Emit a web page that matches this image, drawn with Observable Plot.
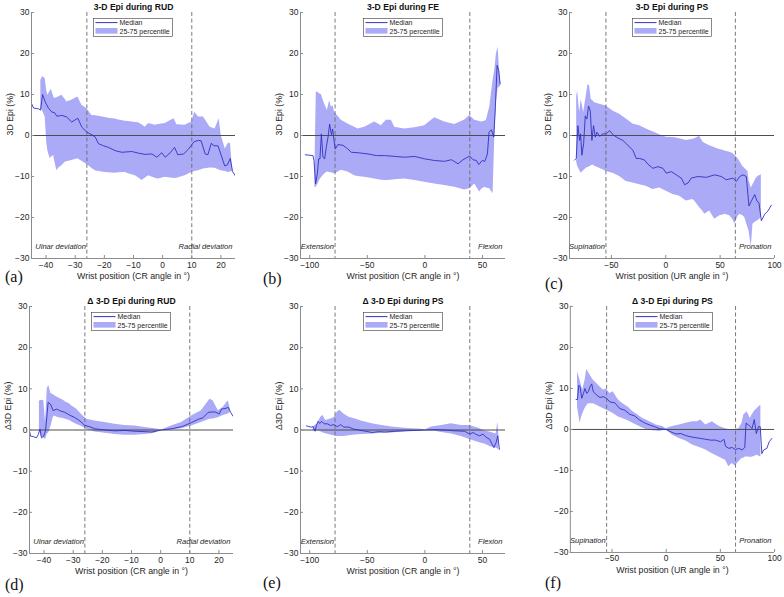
<!DOCTYPE html>
<html>
<head>
<meta charset="utf-8">
<script src="https://cdn.jsdelivr.net/npm/d3@7"></script>
<script src="https://cdn.jsdelivr.net/npm/@observablehq/plot@0.6"></script>
<style>
  body { margin: 0; background: #fff; }
  #fig { position: relative; width: 784px; height: 597px; overflow: hidden;
         font-family: "Liberation Sans", Arial, sans-serif; background: #fff; }
  .panel { position: absolute; }
  .tag { position: absolute; font-family: "Liberation Serif", "Times New Roman", serif;
         font-size: 16px; line-height: 16px; color: #111; }
</style>
</head>
<body>
<div id="fig"></div>
<script>
// ---- axes ----
const yTicks = [-30, -20, -10, 0, 10, 20, 30];
const rudTicks = [-40, -30, -20, -10, 0, 10, 20];
const feTicks = [-100, -50, 0, 50];
const psTicks = [-50, 0, 50, 100];
const rudDomain = [-45, 25];
const feDomain = [-108, 70];
const psDomain = [-88.5, 100];
// end-of-range markers (dashed verticals)
const rudBounds = [-26, 10];
const feBounds = [-78, 39];
const psBounds = [-55, 64];

// ---- (a) 3-D Epi during RUD: median [x, y], band [x, p25, p75] ----
const aMedian = [[-45,7.8],[-44.3,6.7],[-42.6,6.5],[-41.9,6.2],[-41.2,10.0],[-40.3,8.2],[-39.2,6.7],[-38.0,5.7],[-37.1,5.6],[-36.3,4.7],[-34.6,4.9],[-32.9,4.5],[-31.2,3.3],[-29.1,4.2],[-27.7,2.0],[-26.0,0.8],[-24.3,0.2],[-23.1,-0.4],[-22.0,-2.0],[-20.3,-2.5],[-18.6,-2.9],[-16.3,-3.7],[-14.0,-4.1],[-10.6,-3.9],[-8.3,-4.3],[-6.0,-4.6],[-3.7,-4.5],[-2.0,-5.3],[-0.3,-4.2],[0.9,-5.3],[2.6,-4.2],[4.1,-2.9],[5.2,-4.7],[7.2,-4.5],[8.9,-3.3],[10.8,-1.5],[12.3,-1.2],[13.2,-1.3],[14.6,-4.5],[15.5,-4.7],[16.7,-1.9],[17.6,-2.5],[19.0,-2.5],[21.3,-7.4],[22.2,-7.2],[23.2,-5.6],[24.0,-8.8],[24.9,-9.8]];
const aBand = [[-41.8,6.5,13.5],[-41.2,6.0,14.3],[-40.3,4.5,13.9],[-39.8,-1.5,11.0],[-39.4,-3.7,9.8],[-38.6,-5.7,10.8],[-38.2,-5.3,11.3],[-37.4,-4.9,9.5],[-37.1,-6.0,9.0],[-36.3,-8.6,9.2],[-35.7,-8.0,9.4],[-34.6,-7.4,9.8],[-33.4,-6.5,8.8],[-32.9,-6.4,8.2],[-31.2,-6.1,8.6],[-29.1,-5.7,9.4],[-27.7,-6.3,7.4],[-26.0,-7.1,6.5],[-25.4,-7.4,6.0],[-24.3,-8.0,4.9],[-23.1,-8.6,4.8],[-22.0,-8.8,4.7],[-19.7,-9.0,4.4],[-18.6,-9.1,4.2],[-16.3,-9.2,4.0],[-15.1,-9.1,3.8],[-12.8,-9.0,3.5],[-11.7,-9.3,3.4],[-9.4,-9.8,3.2],[-8.3,-10.3,3.1],[-7.1,-11.0,2.6],[-6.0,-10.4,2.0],[-4.8,-9.8,2.9],[-2.6,-10.4,2.5],[-1.4,-10.6,2.7],[0.9,-10.2,2.9],[3.9,-10.5,4.1],[4.9,-10.4,2.6],[7.7,-9.8,2.5],[10.0,-9.0,3.3],[11.0,-8.8,5.7],[12.3,-8.6,4.5],[14.0,-8.2,4.5],[16.3,-7.9,2.0],[18.0,-8.0,1.6],[19.4,-8.4,4.1],[20.1,-8.6,0.0],[21.5,-8.8,-3.3],[22.6,-9.0,-1.8],[23.3,-8.9,-2.0],[24.0,-8.8,-8.8]];

// ---- (b) 3-D Epi during FE ----
const bMedian = [[-103.8,-4.7],[-97.2,-4.9],[-96.3,-6.1],[-94.9,-11.8],[-93.4,-9.3],[-92.2,-5.7],[-91.1,-5.7],[-89.9,0.4],[-88.5,-5.3],[-87.0,-5.7],[-85.6,-2.8],[-84.1,-0.4],[-82.7,2.8],[-81.2,0.2],[-80.1,1.6],[-78.9,-1.2],[-77.8,-3.3],[-75.5,-2.2],[-71.1,-2.4],[-66.8,-3.3],[-63.9,-4.1],[-58.1,-4.2],[-49.4,-4.5],[-42.1,-4.9],[-34.9,-4.9],[-26.2,-5.1],[-17.5,-5.3],[-8.8,-5.1],[-0.2,-5.7],[8.5,-6.1],[17.2,-6.3],[23.0,-5.9],[28.8,-6.9],[33.2,-5.9],[38.9,-5.0],[41.8,-5.9],[44.7,-6.1],[46.8,-7.1],[49.7,-6.1],[52.0,-6.3],[54.3,-4.5],[55.7,0.8],[57.8,1.4],[59.8,-0.4],[61.2,6.9],[62.7,17.1],[64.1,15.9],[65.3,12.6]];
const bBand = [[-95.5,-12.6,-8.0],[-94.3,-12.6,10.6],[-93.4,-12.2,10.6],[-91.4,-11.0,10.2],[-89.9,-10.3,10.0],[-88.5,-9.8,8.8],[-87.0,-9.4,7.7],[-84.7,-8.9,6.1],[-82.7,-9.0,8.5],[-81.2,-9.1,6.9],[-79.8,-9.2,7.3],[-78.3,-9.3,5.7],[-76.0,-9.0,4.9],[-72.6,-8.5,3.7],[-66.8,-8.9,2.8],[-61.0,-9.8,2.0],[-58.1,-10.0,1.6],[-52.3,-10.2,2.0],[-43.6,-10.6,3.3],[-37.8,-10.9,2.4],[-33.5,-11.0,3.7],[-29.1,-10.9,3.7],[-26.2,-10.8,2.0],[-17.5,-10.6,1.6],[-8.8,-11.0,1.9],[-0.2,-11.4,2.4],[8.5,-11.8,4.3],[17.2,-12.2,3.3],[25.9,-12.6,2.7],[34.6,-13.3,3.8],[38.9,-13.0,4.9],[43.3,-11.8,3.7],[47.6,-13.8,3.4],[49.1,-13.2,3.3],[52.0,-12.6,3.5],[53.4,-12.8,3.7],[56.3,-13.0,6.9],[59.2,-14.2,13.4],[60.7,-0.4,16.0],[62.1,8.0,19.9],[63.6,11.5,21.5],[65.0,11.8,15.0],[65.9,12.0,12.6]];

// ---- (c) 3-D Epi during PS ----
const cMedian = [[-83.8,-6.0],[-82.3,-5.6],[-80.8,2.4],[-79.2,-1.2],[-78.3,0.4],[-77.1,-4.8],[-75.5,-2.0],[-74.0,4.8],[-72.5,4.0],[-71.0,7.2],[-69.4,6.0],[-67.9,-1.2],[-66.4,2.4],[-64.8,-0.4],[-63.3,0.8],[-60.8,-0.2],[-57.8,0.4],[-54.7,0.4],[-51.6,1.2],[-48.6,0.2],[-44.0,-0.6],[-39.4,-1.2],[-34.8,-2.4],[-30.2,-3.6],[-27.1,-5.6],[-24.0,-5.6],[-19.4,-6.0],[-16.4,-7.0],[-11.8,-8.0],[-7.2,-7.6],[-2.6,-8.0],[0.5,-9.2],[5.1,-8.8],[9.7,-9.6],[14.3,-10.4],[17.4,-12.0],[20.4,-11.6],[23.5,-10.4],[29.6,-10.0],[37.3,-10.2],[45.0,-9.6],[51.1,-10.0],[55.7,-10.8],[61.8,-10.4],[64.9,-11.2],[68.0,-10.0],[71.0,-9.6],[74.1,-10.0],[76.5,-17.2],[78.7,-16.0],[81.8,-14.4],[83.9,-16.0],[85.7,-16.4],[87.9,-20.8],[91.0,-19.2],[94.0,-18.4],[97.1,-17.0]];
const cBand = [[-81.9,-6.5,9.5],[-81.0,-7.5,10.8],[-79.2,-8.5,5.6],[-77.7,-9.2,8.8],[-75.5,-8.6,5.6],[-73.1,-8.0,9.6],[-71.5,-7.8,12.5],[-70.0,-7.6,12.0],[-68.5,-7.4,8.8],[-67.0,-7.2,8.5],[-65.4,-7.5,8.0],[-60.8,-8.0,7.6],[-54.7,-8.8,7.2],[-48.6,-9.2,6.0],[-42.4,-10.0,5.2],[-36.3,-11.2,4.0],[-30.2,-11.6,2.8],[-24.0,-12.0,2.4],[-17.9,-12.4,1.6],[-14.8,-12.8,1.2],[-11.8,-13.2,0.9],[-5.6,-12.8,0.2],[0.5,-13.6,-0.4],[6.6,-14.4,-0.5],[9.7,-14.6,-0.6],[12.8,-14.8,-0.8],[18.9,-16.0,-1.2],[25.0,-15.6,-0.9],[26.6,-16.0,-0.8],[31.2,-17.6,-0.2],[34.2,-18.5,-1.6],[35.8,-19.2,-1.9],[40.4,-18.4,-2.5],[43.4,-19.7,-2.8],[45.0,-20.4,-3.0],[49.6,-19.6,-3.4],[52.6,-19.4,-3.6],[54.2,-19.2,-3.8],[58.8,-19.6,-4.1],[61.8,-20.5,-4.4],[63.4,-21.6,-4.8],[66.4,-19.8,-5.6],[68.0,-19.2,-6.3],[71.0,-19.6,-7.6],[72.6,-20.0,-8.0],[75.6,-22.5,-8.8],[76.5,-23.2,-11.0],[78.7,-27.2,-12.8],[80.2,-21.6,-12.0],[83.3,-21.0,-10.4],[84.8,-20.8,-10.0],[87.9,-20.0,-9.6]];

// ---- (d) Δ 3-D Epi during RUD ----
const dMedian = [[-45.0,-0.3],[-44.6,-1.5],[-43.7,-1.6],[-42.6,-1.9],[-42.0,-1.1],[-41.4,0.2],[-40.9,-1.9],[-40.1,-1.5],[-39.5,-0.2],[-38.6,6.7],[-37.8,6.3],[-36.9,4.7],[-35.7,5.1],[-34.6,4.7],[-32.9,4.3],[-31.2,3.6],[-29.4,3.0],[-27.7,2.2],[-26.0,1.1],[-24.3,0.8],[-22.6,0.3],[-19.1,0.0],[-15.7,-0.2],[-12.3,-0.1],[-8.8,-0.3],[-5.4,-0.4],[-3.1,-0.5],[0.3,0.0],[3.7,0.3],[7.2,0.8],[10.6,1.8],[12.9,2.6],[14.6,3.0],[16.3,4.3],[18.6,4.4],[20.1,3.9],[20.9,5.1],[22.1,5.2],[23.2,5.5],[24.0,4.3],[24.9,3.3]];
const dBand = [[-41.6,0.0,7.0],[-41.0,-1.5,7.2],[-40.1,-1.9,7.1],[-39.5,-2.3,1.8],[-38.9,-1.0,10.0],[-38.4,-0.7,10.8],[-37.6,1.0,8.8],[-36.9,3.0,8.6],[-36.5,3.4,8.4],[-35.0,3.0,7.8],[-33.4,2.8,7.2],[-32.6,2.6,6.8],[-31.2,2.3,6.3],[-30.6,2.0,5.9],[-28.9,1.4,5.1],[-27.2,0.9,3.8],[-25.4,0.2,2.6],[-22.6,-0.5,2.2],[-19.1,-0.8,1.8],[-15.7,-1.1,1.4],[-12.3,-1.3,1.1],[-8.8,-1.3,1.0],[-5.4,-1.1,0.6],[-2.0,-0.8,0.3],[0.3,0.0,0.0],[3.7,0.0,1.0],[7.2,0.3,1.8],[10.6,1.0,3.4],[14.0,1.8,4.7],[16.9,2.6,7.5],[18.0,2.7,7.1],[19.8,3.0,4.7],[21.5,3.5,5.5],[23.2,3.9,7.1],[23.9,4.3,5.1]];

// ---- (e) Δ 3-D Epi during FE ----
const eMedian = [[-102.8,1.0],[-99.0,0.7],[-97.0,0.8],[-95.3,-0.3],[-94.2,1.1],[-92.7,2.1],[-91.3,1.6],[-89.6,2.1],[-87.5,1.5],[-84.7,1.5],[-81.8,1.1],[-78.9,1.3],[-76.1,0.8],[-73.2,1.3],[-70.3,0.7],[-66.0,0.7],[-61.7,0.2],[-57.4,0.0],[-51.6,-0.3],[-45.9,-0.6],[-40.1,-0.4],[-34.4,-0.5],[-25.8,-0.3],[-17.1,-0.2],[-8.5,-0.1],[0.1,0.0],[8.7,0.1],[17.3,0.0],[26.0,-0.2],[34.6,-0.3],[38.9,-1.0],[41.8,-0.6],[44.6,-1.1],[47.5,-1.4],[50.4,-1.0],[53.3,-1.8],[56.1,-2.2],[58.1,-3.3],[59.9,-4.3],[61.9,-3.0],[63.3,-1.4],[64.7,-4.7]];
const eBand = [[-97.0,-0.3,0.7],[-93.3,-0.2,1.5],[-90.4,-0.4,3.1],[-88.4,-0.7,3.5],[-86.1,-0.9,2.3],[-81.8,-1.2,2.7],[-78.9,-1.4,3.0],[-76.1,-1.6,4.3],[-74.0,-1.6,4.8],[-70.3,-1.6,3.9],[-66.0,-1.4,3.1],[-60.3,-1.2,2.7],[-54.5,-1.1,2.1],[-45.9,-1.0,1.5],[-37.3,-0.8,1.1],[-28.6,-0.7,0.7],[-20.0,-0.5,0.5],[-11.4,-0.3,0.3],[-2.8,-0.2,0.2],[0.1,0.0,0.0],[5.8,-0.2,0.7],[14.5,-0.6,1.1],[23.1,-1.0,1.5],[31.7,-1.6,1.1],[38.9,-2.3,1.1],[46.1,-3.0,0.5],[51.8,-3.4,-0.2],[57.6,-4.1,-0.6],[61.9,-4.4,-1.0],[63.3,-4.6,1.9],[64.2,-4.9,-1.0]];

// ---- (f) Δ 3-D Epi during PS ----
const fMedian = [[-83.2,7.3],[-81.9,7.3],[-80.7,10.8],[-79.5,10.4],[-78.0,7.6],[-76.4,8.8],[-74.9,10.0],[-73.4,8.8],[-71.9,9.2],[-70.3,10.4],[-68.8,11.1],[-67.3,9.2],[-64.2,8.4],[-61.2,7.8],[-58.1,8.0],[-55.1,7.6],[-52.0,6.7],[-47.5,6.5],[-42.9,5.1],[-38.3,4.7],[-33.7,3.7],[-29.1,3.3],[-24.6,2.3],[-20.0,1.6],[-15.4,1.1],[-10.8,0.7],[-6.3,0.2],[-0.2,0.0],[4.4,-0.6],[9.0,-1.1],[13.6,-1.0],[18.2,-1.5],[22.7,-1.8],[27.3,-2.0],[31.9,-2.2],[36.5,-2.4],[41.0,-2.6],[45.6,-2.6],[50.2,-3.0],[53.3,-2.4],[54.8,-4.1],[57.8,-4.6],[60.9,-4.4],[63.9,-4.9],[67.0,-4.6],[70.0,-5.0],[72.5,-4.4],[73.7,1.5],[76.1,1.1],[79.2,0.2],[81.3,2.4],[83.2,-1.0],[85.3,0.7],[86.8,0.7],[88.3,-5.9],[89.9,-5.0],[92.9,-4.6],[95.1,-3.0],[97.5,-2.2]];
const fBand = [[-81.9,5.5,14.1],[-79.5,1.5,12.0],[-78.0,3.1,10.5],[-77.1,3.8,9.6],[-74.9,5.1,12.0],[-73.4,5.8,14.6],[-71.9,6.3,14.0],[-70.3,6.3,13.3],[-67.3,6.3,12.0],[-64.2,5.9,11.2],[-61.2,5.5,10.4],[-58.1,5.1,9.6],[-55.1,4.7,9.8],[-52.0,4.3,8.8],[-49.0,3.9,9.2],[-44.4,3.1,7.3],[-42.9,2.9,6.9],[-39.8,2.6,6.3],[-36.8,2.3,5.7],[-35.2,2.1,5.5],[-30.7,1.5,4.3],[-26.1,0.9,3.5],[-24.6,0.7,3.2],[-21.5,0.3,2.7],[-18.5,0.0,2.3],[-15.4,-0.2,1.9],[-12.4,-0.3,1.5],[-9.3,-0.4,1.1],[-6.3,-0.5,0.9],[-3.2,-0.3,0.7],[-0.2,-0.1,0.2],[5.9,-1.4,0.7],[12.1,-2.2,1.1],[18.2,-2.8,1.5],[24.3,-3.8,1.9],[28.8,-4.2,1.9],[31.9,-4.5,2.3],[36.5,-5.0,1.1],[42.6,-5.9,1.9],[48.7,-6.7,0.8],[54.8,-7.5,0.2],[57.8,-9.1,0.0],[60.9,-8.3,-0.2],[63.9,-8.9,0.0],[67.0,-7.9,0.2],[70.0,-7.1,1.5],[71.6,-7.0,3.5],[73.1,-6.7,3.9],[74.6,-6.7,4.3],[77.7,-6.8,2.7],[79.2,-6.8,3.5],[82.2,-6.5,4.7],[83.8,-6.3,5.0],[85.3,-6.5,5.5],[87.4,-6.7,5.9]];

// ---- text ----
const titles = ["3-D Epi during RUD", "3-D Epi during FE", "3-D Epi during PS",
                "Δ 3-D Epi during RUD", "Δ 3-D Epi during PS", "Δ 3-D Epi during PS"];
const tags = ["(a)", "(b)", "(c)", "(d)", "(e)", "(f)"];
const yLabels = ["3D Epi (%)", "Δ3D Epi (%)"];
const xLabelCR = "Wrist position (CR angle in °)";
const xLabelUR = "Wrist position (UR angle in °)";
const rudNotes = ["Ulnar deviation", "Radial deviation"];
const feNotes = ["Extension", "Flexion"];
const psNotes = ["Supination", "Pronation"];
const legendLabels = ["Median", "25-75 percentile"];

// ---- styling ----
const BAND = "#aaaaf7";
const MEDIAN = "#3131c2";
const INK = "#262626";
const FONT = "'Liberation Sans', Arial, sans-serif";

// frame placement on the page: [left, top, width, height, bottom margin]
const frames = [
  [31, 12, 204, 246, 32], [300, 12, 205, 246, 32], [569, 12, 205, 246, 32],
  [29, 306, 204, 247, 44], [300, 306, 205, 247, 44], [570, 306, 205, 247, 44]
];
const tagPos = [[5, 269], [263, 271], [545, 276], [5, 577], [263, 575], [545, 575]];

const panels = [
  {median: aMedian, band: aBand, domain: rudDomain, ticks: rudTicks, bounds: rudBounds, notes: rudNotes, xlabel: xLabelCR, ylabel: yLabels[0]},
  {median: bMedian, band: bBand, domain: feDomain, ticks: feTicks, bounds: feBounds, notes: feNotes, xlabel: xLabelCR, ylabel: yLabels[0]},
  {median: cMedian, band: cBand, domain: psDomain, ticks: psTicks, bounds: psBounds, notes: psNotes, xlabel: xLabelUR, ylabel: yLabels[0]},
  {median: dMedian, band: dBand, domain: rudDomain, ticks: rudTicks, bounds: rudBounds, notes: rudNotes, xlabel: xLabelCR, ylabel: yLabels[1]},
  {median: eMedian, band: eBand, domain: feDomain, ticks: feTicks, bounds: feBounds, notes: feNotes, xlabel: xLabelCR, ylabel: yLabels[1]},
  {median: fMedian, band: fBand, domain: psDomain, ticks: psTicks, bounds: psBounds, notes: psNotes, xlabel: xLabelUR, ylabel: yLabels[1]}
];

const fig = document.getElementById("fig");
const mL = 40, mR = 10, mT = 12;

function drawLegend(cx, top) {
  const svg = d3.create("svg")
    .attr("width", 80).attr("height", 19)
    .style("position", "absolute")
    .style("left", (cx - 40) + "px").style("top", top + "px")
    .style("font-family", FONT).style("font-size", "7px");
  svg.append("rect").attr("x", 0.5).attr("y", 0.5).attr("width", 79).attr("height", 18)
    .attr("fill", "#fff").attr("stroke", "#3a3a3a").attr("stroke-width", 0.6);
  svg.append("line").attr("x1", 2.5).attr("x2", 24.5).attr("y1", 4.6).attr("y2", 4.6)
    .attr("stroke", MEDIAN).attr("stroke-width", 1);
  svg.append("rect").attr("x", 2.5).attr("y", 10).attr("width", 22).attr("height", 5.6)
    .attr("fill", BAND);
  svg.append("text").attr("x", 26.5).attr("y", 7.2).attr("fill", INK).text(legendLabels[0]);
  svg.append("text").attr("x", 26.5).attr("y", 15.6).attr("fill", INK).text(legendLabels[1]);
  fig.appendChild(svg.node());
}

panels.forEach((p, i) => {
  const [fl, ft, fw, fh, mB] = frames[i];
  const chart = Plot.plot({
    width: mL + fw + mR,
    height: mT + fh + mB,
    marginLeft: mL, marginRight: mR, marginTop: mT, marginBottom: mB,
    style: {fontFamily: FONT, fontSize: "8.5px", color: INK, background: "transparent", overflow: "visible"},
    x: {domain: p.domain},
    y: {domain: [-30, 30]},
    marks: [
      Plot.areaY(p.band, {x: d => d[0], y1: d => d[1], y2: d => d[2], fill: BAND, clip: true}),
      Plot.ruleY([0], {stroke: "#4d4d4d", strokeWidth: 1}),
      Plot.ruleX(p.bounds, {stroke: "#6a6a6a", strokeWidth: 0.9, strokeDasharray: "4,2.6"}),
      Plot.line(p.median, {x: d => d[0], y: d => d[1], stroke: MEDIAN, strokeWidth: 0.9, clip: true}),
      Plot.ruleX([p.domain[0]], {stroke: "#8c8c8c", strokeWidth: 1}),
      Plot.ruleY([-30], {stroke: "#8c8c8c", strokeWidth: 1}),
      Plot.axisX({ticks: p.ticks, tickSize: -3, tickPadding: 6, label: null, stroke: "#8c8c8c", fill: INK}),
      Plot.axisY({ticks: yTicks, tickSize: -3, tickPadding: 5, label: null, stroke: "#8c8c8c", fill: INK}),
      Plot.text([titles[i]], {text: d => d, frameAnchor: "top", dy: -5, lineAnchor: "middle", fontWeight: "bold", fill: "#111", fontSize: 8.6}),
      Plot.text([p.xlabel], {text: d => d, frameAnchor: "bottom", dy: 18, lineAnchor: "middle", fill: INK, fontSize: 8.8}),
      Plot.text([p.ylabel], {text: d => d, frameAnchor: "left", dx: -21, rotate: -90, lineAnchor: "middle", fill: INK, fontSize: 8.8}),
      Plot.text([p.bounds[0]], {x: d => d, text: () => p.notes[0], frameAnchor: "bottom", dy: -11.5, dx: -1, textAnchor: "end", lineAnchor: "middle", fontStyle: "italic", fill: INK, fontSize: 7.6}),
      Plot.text([p.notes[1]], {text: d => d, frameAnchor: "bottom-right", dy: -11.5, dx: -3, textAnchor: "end", lineAnchor: "middle", fontStyle: "italic", fill: INK, fontSize: 7.6})
    ]
  });
  const holder = document.createElement("div");
  holder.className = "panel";
  holder.style.left = (fl - mL) + "px";
  holder.style.top = (ft - mT) + "px";
  holder.appendChild(chart);
  fig.appendChild(holder);

  drawLegend(fl + fw / 2, ft + 6);

  const tag = document.createElement("div");
  tag.className = "tag";
  tag.textContent = tags[i];
  tag.style.left = tagPos[i][0] + "px";
  tag.style.top = tagPos[i][1] + "px";
  fig.appendChild(tag);
});
</script>
</body>
</html>
